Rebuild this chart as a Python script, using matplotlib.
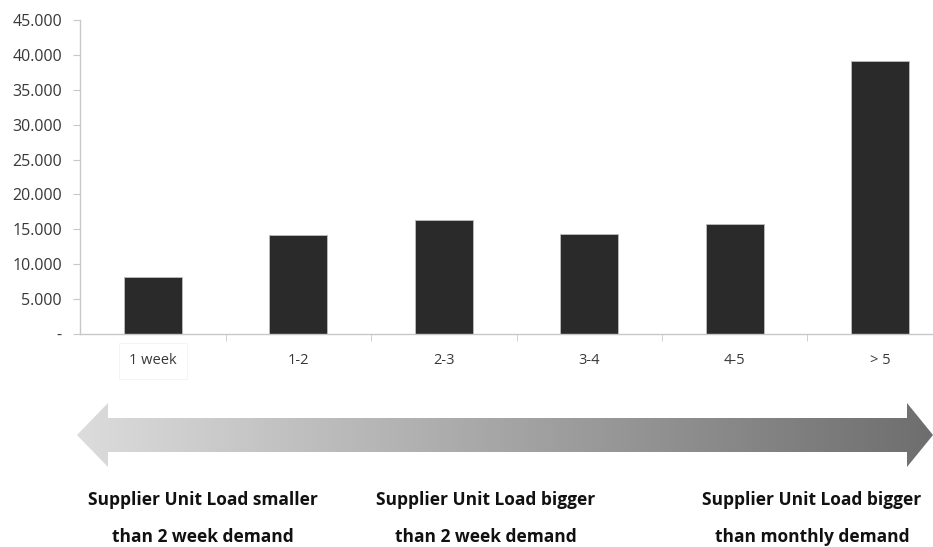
import matplotlib
matplotlib.use('Agg')
import matplotlib.pyplot as plt
import matplotlib.patches as patches
import numpy as np

plt.rcParams.update({'font.family': 'Open Sans', 'font.size': 10})

categories = ['1 week', '1-2', '2-3', '3-4', '4-5', '> 5']
values = [8100, 14200, 16300, 14400, 15700, 39100]
y_ticks = [0, 5000, 10000, 15000, 20000, 25000, 30000, 35000, 40000, 45000]
y_tick_labels = ['-', '5.000', '10.000', '15.000', '20.000', '25.000',
                 '30.000', '35.000', '40.000', '45.000']
notes = [('Supplier Unit Load smaller', 'than 2 week demand'),
         ('Supplier Unit Load bigger', 'than 2 week demand'),
         ('Supplier Unit Load bigger', 'than monthly demand')]

W, H = 933, 547
fig = plt.figure(figsize=(W / 100, H / 100), dpi=100)

# bar chart (axis runs past the right edge, like the cropped original)
ax = fig.add_axes([80 / W, 213 / H, 873 / W, 314 / H])
x = np.arange(len(categories))
ax.bar(x, values, width=0.4, color='#2a2a2a', edgecolor='#bdbdbd', linewidth=0.6)
ax.set_xlim(-0.5, len(categories) - 0.5)
ax.set_ylim(0, 45000)
ax.set_yticks(y_ticks)
ax.set_yticklabels(y_tick_labels, fontsize=11.5, color='#383838')
ax.set_xticks(x)
ax.set_xticklabels(categories, fontsize=10.5, color='#383838')
ax.set_xticks(np.arange(len(categories)) + 0.5, minor=True)
ax.tick_params(axis='x', which='major', length=0, pad=14)
ax.tick_params(axis='x', which='minor', length=5, color='#c8c8c8')
ax.tick_params(axis='y', length=5, color='#c8c8c8', pad=8)
for s in ['top', 'right']:
    ax.spines[s].set_visible(False)
for s in ['left', 'bottom']:
    ax.spines[s].set_color('#c8c8c8')
    ax.spines[s].set_linewidth(1)
lbl = ax.get_xticklabels()[0]
lbl.set_bbox(dict(facecolor='white', edgecolor='#f3f3f3', boxstyle='square,pad=0.7', lw=0.6))

# gradient double arrow underneath
ov = fig.add_axes([0, 0, 1, 1])
ov.set_xlim(0, W)
ov.set_ylim(H, 0)
ov.axis('off')
pts = [(77, 435), (108, 403), (108, 418), (907, 418), (907, 403), (933, 435),
       (907, 467), (907, 452), (108, 452), (108, 467)]
poly = patches.Polygon(pts, closed=True, facecolor='none', edgecolor='none')
ov.add_patch(poly)
grad = np.linspace(0, 1, 256).reshape(1, -1)
cmap = matplotlib.colors.LinearSegmentedColormap.from_list('g', ['#dcdcdc', '#6e6e6e'])
im = ov.imshow(grad, cmap=cmap, extent=[77, 933, 467, 403], aspect='auto')
im.set_clip_path(poly)
ov.set_xlim(0, W)
ov.set_ylim(H, 0)

centers = [203, 486, 812]
for cx, (l1, l2) in zip(centers, notes):
    ov.text(cx, 500, l1, ha='center', va='center', fontsize=12.5, fontweight='bold', color='#111111')
    ov.text(cx, 537, l2, ha='center', va='center', fontsize=12.5, fontweight='bold', color='#111111')

fig.savefig('out.png', dpi=100)
